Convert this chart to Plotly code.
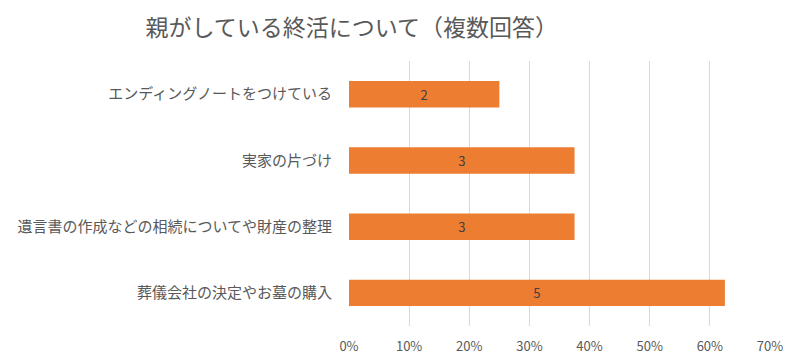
import plotly.graph_objects as go

categories = ["エンディングノートをつけている", "実家の片づけ", "遺言書の作成などの相続についてや財産の整理", "葬儀会社の決定やお墓の購入"]
shares = [0.25, 0.375, 0.375, 0.625]
counts = [2, 3, 3, 5]
tick_vals = [0, 0.1, 0.2, 0.3, 0.4, 0.5, 0.6, 0.7]
tick_text = ["0%", "10%", "20%", "30%", "40%", "50%", "60%", "70%"]

FONT = "Noto Sans CJK JP"

fig = go.Figure(go.Bar(
    x=shares, y=categories, orientation="h",
    marker=dict(color="#ED7D31", line=dict(width=0)),
    text=[str(c) for c in counts], textposition="inside", insidetextanchor="middle",
    textfont=dict(family=FONT, size=13, color="#404040"),
    hoverinfo="skip",
))

fig.update_layout(
    width=792, height=348,
    margin=dict(l=341, r=30, t=53, b=30),
    paper_bgcolor="white", plot_bgcolor="white",
    bargap=0.6,
    showlegend=False,
    title=dict(text="親がしている終活について（複数回答）", x=0.434, xanchor="center", y=0.943, yanchor="middle",
               font=dict(family=FONT, size=23, color="#595959")),
    font=dict(family=FONT, size=13, color="#595959"),
)
fig.update_xaxes(range=[0, 0.7], tickvals=tick_vals, ticktext=tick_text,
                 showgrid=True, gridcolor="#D9D9D9", gridwidth=1, zeroline=False,
                 showline=False, ticklabelstandoff=11, automargin=False,
                 tickfont=dict(family=FONT, size=13, color="#595959"))
fig.update_yaxes(autorange="reversed", showgrid=False, showline=False, zeroline=False,
                 ticklabelstandoff=16, automargin=False,
                 tickfont=dict(family=FONT, size=15, color="#595959"))

fig.write_html("out.html")
